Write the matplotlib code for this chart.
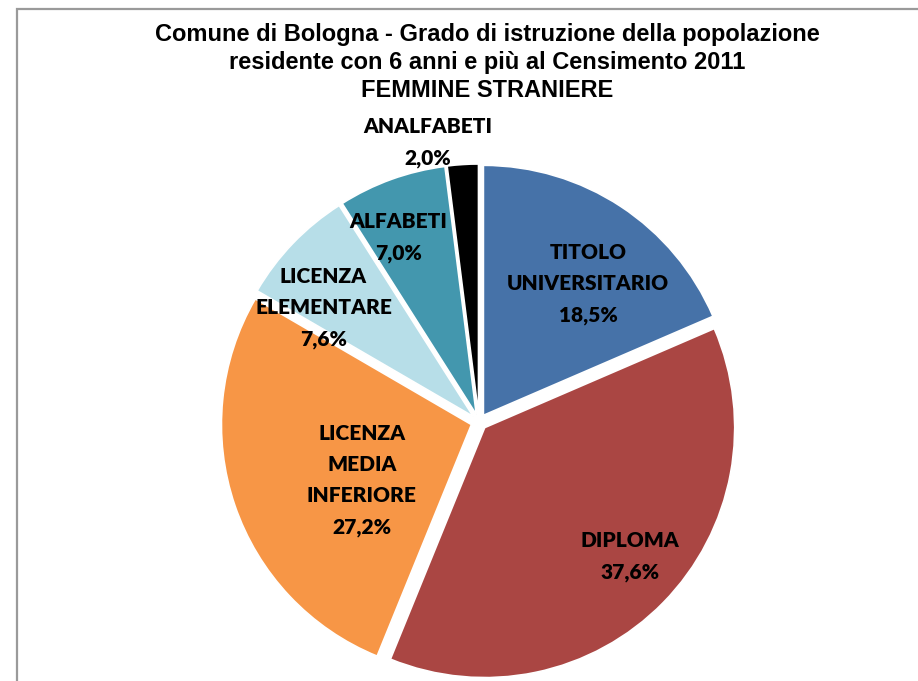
import numpy as np
import matplotlib
matplotlib.use("Agg")
import matplotlib.pyplot as plt
from matplotlib.patches import Rectangle

# dati
categorie = ["TITOLO\nUNIVERSITARIO", "DIPLOMA", "LICENZA\nMEDIA\nINFERIORE",
             "LICENZA\nELEMENTARE", "ALFABETI", "ANALFABETI"]
percentuali = [18.5, 37.6, 27.2, 7.6, 7.0, 2.0]
colori = ["#4672A8", "#AA4643", "#F79646", "#B7DEE8", "#4397AE", "#000000"]

titolo = ("Comune di Bologna - Grado di istruzione della popolazione\n"
          "residente con 6 anni e più al Censimento 2011\n"
          "FEMMINE STRANIERE")

# posizione etichette (frazione del raggio, spostamento angolare in gradi)
dist_etichette = [0.672, 0.776, 0.492, 0.739, 0.774, 1.103]
spost_etichette = [-5.2, 2.8, 8.2, 8.0, 4.0, 7.0]

W, H = 918, 681
CX, CY, R = 479, 422, 250  # centro e raggio della torta in pixel

fig = plt.figure(figsize=(W / 100, H / 100), dpi=100)
ax = fig.add_axes([0, 0, 1, 1])

wedges, _ = ax.pie(
    percentuali,
    colors=colori,
    startangle=90,
    counterclock=False,
    explode=[0.032] * len(percentuali),
    radius=1,
    wedgeprops=dict(edgecolor="white", linewidth=1.2),
    frame=True,
)
ax.set_xlim(-CX / R, (W - CX) / R)
ax.set_ylim(-(H - CY) / R, CY / R)
ax.set_aspect("auto")
ax.axis("off")

for w, cat, val, d, s in zip(wedges, categorie, percentuali, dist_etichette, spost_etichette):
    ang = np.deg2rad((w.theta1 + w.theta2) / 2 + s)
    x = w.center[0] + d * np.cos(ang)
    y = w.center[1] + d * np.sin(ang)
    testo = f"{cat}\n{val:.1f}%".replace(".", ",")
    ax.text(x, y, testo, ha="center", va="center", fontsize=15, fontweight="heavy",
            family=["Lato", "DejaVu Sans"], linespacing=1.78, color="black")

fig.text(487 / W, 1 - 23 / H, titolo, ha="center", va="top", fontsize=17,
         fontweight="bold", family=["Liberation Sans", "DejaVu Sans"],
         linespacing=1.27)

# cornice del grafico
fig.add_artist(Rectangle((17 / W, -0.05), 1.1, 1.05 - 9 / H, transform=fig.transFigure,
                         fill=False, edgecolor="#9a9a9a", linewidth=1.6))

plt.savefig("out.png", dpi=100)
plt.close()
